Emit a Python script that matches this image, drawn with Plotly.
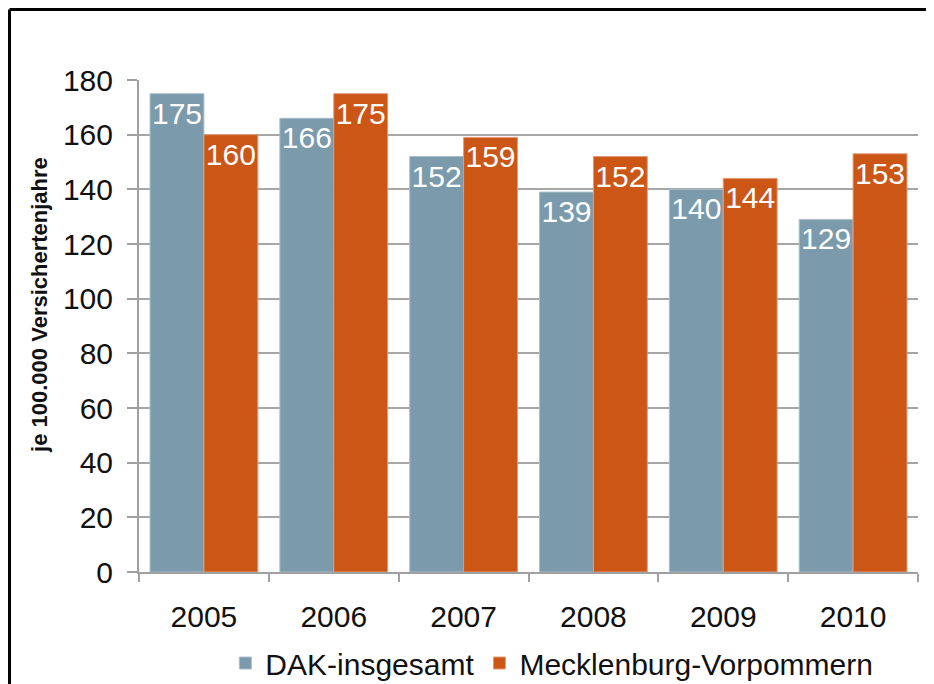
import plotly.graph_objects as go

years = ["2005", "2006", "2007", "2008", "2009", "2010"]
dak_values = [175, 166, 152, 139, 140, 129]
mv_values = [160, 175, 159, 152, 144, 153]
y_ticks = [0, 20, 40, 60, 80, 100, 120, 140, 160, 180]

FONT = "Liberation Sans, Arial, sans-serif"

fig = go.Figure()
fig.add_trace(go.Bar(x=years, y=dak_values, name="DAK-insgesamt",
                     marker=dict(color="#7b9aab", line=dict(color="#a9bfca", width=1)),
                     text=dak_values, textposition="inside", insidetextanchor="end",
                     textangle=0, constraintext="none", cliponaxis=False,
                     textfont=dict(color="white", size=30, family=FONT)))
fig.add_trace(go.Bar(x=years, y=mv_values, name="Mecklenburg-Vorpommern",
                     marker=dict(color="#cb5616", line=dict(color="#e39a78", width=1)),
                     text=mv_values, textposition="inside", insidetextanchor="end",
                     textangle=0, constraintext="none", cliponaxis=False,
                     textfont=dict(color="white", size=30, family=FONT)))

# the page puts the figure 8px in from the top-left corner
fig.update_layout(
    width=926, height=676,
    margin=dict(l=131, r=16, t=72, b=112, autoexpand=False),
    paper_bgcolor="white", plot_bgcolor="white",
    barmode="group", bargap=0.17, bargroupgap=0,
    font=dict(family=FONT, size=30, color="#111111"),
    showlegend=True,
    legend=dict(orientation="h", x=0.53, xanchor="center", y=-0.185, yanchor="middle",
                font=dict(size=30), itemwidth=30, tracegroupgap=0),
    xaxis=dict(type="category", showline=True, linecolor="#a0a0a0", linewidth=2,
               ticks="outside", tickson="boundaries", ticklen=8, tickcolor="#a0a0a0",
               tickwidth=2, tickfont=dict(size=30), showgrid=False, automargin=False,
               ticklabelstandoff=17),
    yaxis=dict(range=[0, 180], tickvals=y_ticks, showline=True, linecolor="#a0a0a0",
               linewidth=2, ticks="outside", ticklen=10, tickcolor="#a0a0a0", tickwidth=2,
               showgrid=True, gridcolor="#a6a6a6", gridwidth=2, zeroline=False,
               tickfont=dict(size=30), ticklabelstandoff=8, automargin=False),
    annotations=[dict(text="<b>je 100.000 Versichertenjahre</b>", textangle=-90,
                      xref="paper", yref="paper", x=-0.127, y=0.543,
                      xanchor="center", yanchor="middle",
                      showarrow=False, font=dict(size=22, color="#111111"))],
    shapes=[
        dict(type="line", xref="paper", yref="paper", x0=-0.1662, x1=-0.1662,
             y0=-0.3, y1=1.1433, line=dict(color="black", width=3)),
        dict(type="line", xref="paper", yref="paper", x0=-0.1662, x1=1.1,
             y0=1.1433, y1=1.1433, line=dict(color="black", width=3)),
    ],
)

fig.write_html("out.html")
